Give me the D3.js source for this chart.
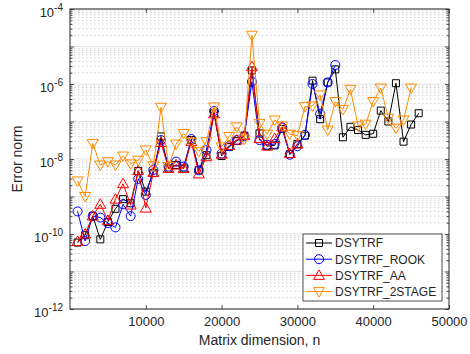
<!DOCTYPE html>
<html>
<head>
<meta charset="utf-8">
<script src="https://cdn.jsdelivr.net/npm/d3@7"></script>
<style>
  body { margin: 0; background: #fff; }
  text { font-family: "Liberation Sans", Arial, sans-serif; fill: #262626; }
</style>
</head>
<body>
<svg id="chart"></svg>
<script>
// matrix dimensions n
const sizes = [1000, 2000, 3000, 4000, 5000, 6000, 7000, 8000, 9000, 10000,
  11000, 12000, 13000, 14000, 15000, 16000, 17000, 18000, 19000, 20000,
  21000, 22000, 23000, 24000, 25000, 26000, 27000, 28000, 29000, 30000,
  31000, 32000, 33000, 34000, 35000, 36000, 37000, 38000, 39000, 40000,
  41000, 42000, 43000, 44000, 45000, 46000];

// error norms
const errDsytrf = [5.9e-11, 9.3e-11, 3.0e-10, 7.2e-11, 2.1e-10, 4.7e-10, 8.5e-10, 6.6e-10, 4.8e-9, 1.35e-9,
  4.2e-9, 4.0e-8, 5.6e-9, 6.9e-9, 5.6e-9, 3.2e-8, 5.0e-9, 1.26e-8, 1.66e-7, 1.2e-8,
  2.1e-8, 3.0e-8, 4.2e-8, 2.3e-6, 4.8e-8, 2.2e-8, 2.3e-8, 6.3e-8, 1.35e-8, 2.5e-8,
  4.2e-8, 1.23e-6, 1.15e-7, 1.1e-6, 2.45e-6, 3.8e-8, 7.2e-8, 5.9e-8, 4.4e-8, 4.7e-8,
  1.95e-7, 1.0e-7, 1.05e-6, 2.9e-8, 8.3e-8, 1.66e-7];

const errRook = [4.0e-10, 6.5e-11, 3.0e-10, 2.75e-10, 1.95e-10, 1.5e-10, 6.2e-10, 3.0e-10, 2.95e-9, 1.1e-9,
  5.1e-9, 3.2e-8, 6.3e-9, 8.5e-9, 6.3e-9, 3.4e-8, 5.0e-9, 1.74e-8, 1.9e-7, 1.4e-8,
  2.2e-8, 3.2e-8, 4.0e-8, 1.15e-6, 3.2e-8, 2.4e-8, 2.5e-8, 6.9e-8, 1.3e-8, 2.2e-8,
  4.4e-8, 1.0e-6, 1.6e-7, 1.1e-6, 3.2e-6];

const errAA = [6.3e-11, 1.0e-10, 3.0e-10, 6.2e-10, 2.3e-10, 8.5e-10, 2.2e-9, 5.9e-10, 4.9e-9, 4.9e-10,
  4.4e-9, 2.75e-8, 5.6e-9, 6.9e-9, 5.6e-9, 2.9e-8, 4.0e-9, 1.15e-8, 1.6e-7, 1.35e-8,
  2.3e-8, 3.2e-8, 4.2e-8, 2.9e-6, 3.5e-8, 2.2e-8, 3.5e-8, 7.2e-8, 1.4e-8, 2.5e-8];

const err2stage = [2.6e-9, 1.0e-9, 2.6e-8, 6.9e-9, 8.5e-9, 6.9e-9, 1.2e-8, 7.4e-9, 9.3e-9, 1.74e-8,
  6.6e-9, 2.4e-7, 6.3e-9, 2.5e-8, 4.8e-8, 2.8e-8, 1.6e-8, 2.9e-8, 2.45e-7, 2.1e-8,
  4.0e-8, 7.2e-8, 3.4e-8, 2.0e-5, 8.9e-8, 4.6e-8, 1.1e-7, 7.6e-8, 4.6e-8, 4.2e-8,
  2.5e-7, 2.6e-7, 5.1e-7, 5.9e-8, 3.4e-7, 2.1e-7, 7.2e-7, 7.6e-8, 8.5e-8, 3.4e-7,
  7.8e-7, 1.23e-7, 6.6e-8, 1.1e-7, 7.8e-7];

const seriesNames = ["DSYTRF", "DSYTRF_ROOK", "DSYTRF_AA", "DSYTRF_2STAGE"];
const xTickValues = [10000, 20000, 30000, 40000, 50000];
const yLabelExps = [-4, -6, -8, -10, -12];

const seriesList = [errDsytrf, errRook, errAA, err2stage];
const colors = ["#000000", "#0000ff", "#ff0000", "#ff8c00"];
const markers = [
  "M-3.5,-3.5h7v7h-7z",
  d3.symbol(d3.symbolCircle, 64)(),
  "M0,-5.5L5.5,4L-5.5,4Z",
  "M0,5.5L5.5,-4L-5.5,-4Z"
];

const width = 470, height = 354;
const plotL = 70, plotR = 449, plotT = 9, plotB = 309;

const svg = d3.select("#chart").attr("width", width).attr("height", height);

const x = d3.scaleLinear().domain([0, 50000]).range([plotL, plotR]);
const y = d3.scaleLog().domain([1e-12, 1e-4]).range([plotB, plotT]);

const allTicks = y.ticks();
const decades = allTicks.filter(v => Math.abs(Math.log10(v) - Math.round(Math.log10(v))) < 1e-9);
const minors = allTicks.filter(v => !decades.includes(v));

// grid
const grid = svg.append("g");
grid.selectAll("line.minor")
  .data(minors)
  .join("line")
  .attr("x1", plotL).attr("x2", plotR)
  .attr("y1", d => y(d)).attr("y2", d => y(d))
  .attr("stroke", "#cfcfcf")
  .attr("stroke-dasharray", "1.5,2.5")
  .attr("stroke-width", 1);
grid.selectAll("line.major")
  .data(decades)
  .join("line")
  .attr("x1", plotL).attr("x2", plotR)
  .attr("y1", d => y(d)).attr("y2", d => y(d))
  .attr("stroke", "#e3e3e3")
  .attr("stroke-width", 1);

// series
const line = d3.line().x(d => x(d[0])).y(d => y(d[1]));
seriesList.forEach((vals, i) => {
  const pts = vals.map((v, j) => [sizes[j], v]);
  const g = svg.append("g");
  g.append("path")
    .datum(pts)
    .attr("d", line)
    .attr("fill", "none")
    .attr("stroke", colors[i])
    .attr("stroke-width", 1);
  g.selectAll("path.m")
    .data(pts)
    .join("path")
    .attr("class", "m")
    .attr("d", markers[i])
    .attr("transform", d => `translate(${x(d[0])},${y(d[1])})`)
    .attr("fill", "none")
    .attr("stroke", colors[i])
    .attr("stroke-width", 1);
});

// axes box and ticks
const axisColor = "#262626";
const axB = svg.append("g").attr("transform", `translate(0,${plotB})`)
  .call(d3.axisBottom(x).tickValues(xTickValues).tickSizeInner(-4).tickSizeOuter(0).tickPadding(8).tickFormat(d3.format("d")));
const axT = svg.append("g").attr("transform", `translate(0,${plotT})`)
  .call(d3.axisTop(x).tickValues(xTickValues).tickSizeInner(-4).tickSizeOuter(0).tickFormat(""));
const axL = svg.append("g").attr("transform", `translate(${plotL},0)`)
  .call(d3.axisLeft(y).tickValues(decades).tickSizeInner(-4).tickSizeOuter(0).tickFormat(""));
const axLm = svg.append("g").attr("transform", `translate(${plotL},0)`)
  .call(d3.axisLeft(y).tickValues(minors).tickSizeInner(-2.5).tickSizeOuter(0).tickFormat(""));
const axR = svg.append("g").attr("transform", `translate(${plotR},0)`)
  .call(d3.axisRight(y).tickValues(decades).tickSizeInner(-4).tickSizeOuter(0).tickFormat(""));
const axRm = svg.append("g").attr("transform", `translate(${plotR},0)`)
  .call(d3.axisRight(y).tickValues(minors).tickSizeInner(-2.5).tickSizeOuter(0).tickFormat(""));

[axB, axT, axL, axLm, axR, axRm].forEach(a => {
  a.selectAll(".domain").remove();
  a.selectAll("line").attr("stroke", axisColor).attr("stroke-width", 0.8);
});
axB.selectAll("text").attr("font-size", 13).attr("fill", axisColor)
  .style("font-family", '"Liberation Sans", Arial, sans-serif');

svg.append("rect")
  .attr("x", plotL).attr("y", plotT)
  .attr("width", plotR - plotL).attr("height", plotB - plotT)
  .attr("fill", "none")
  .attr("stroke", axisColor)
  .attr("stroke-width", 1);

// y tick labels 10^k
const yl = svg.append("g").selectAll("text")
  .data(yLabelExps)
  .join("text")
  .attr("x", plotL - 7)
  .attr("y", d => y(Math.pow(10, d)) + 8)
  .attr("text-anchor", "end")
  .attr("font-size", 13);
yl.append("tspan").text("10");
yl.append("tspan").attr("dy", -6).attr("font-size", 10).text(d => String(d));

// axis labels
svg.append("text")
  .attr("x", (plotL + plotR) / 2)
  .attr("y", 345)
  .attr("text-anchor", "middle")
  .attr("font-size", 14)
  .text("Matrix dimension, n");
svg.append("text")
  .attr("transform", `translate(22,${(plotT + plotB) / 2}) rotate(-90)`)
  .attr("text-anchor", "middle")
  .attr("font-size", 14)
  .text("Error norm");

// legend
const lg = svg.append("g").attr("transform", "translate(303,234)");
lg.append("rect")
  .attr("width", 139).attr("height", 67)
  .attr("fill", "#fff")
  .attr("stroke", axisColor)
  .attr("stroke-width", 0.8);
seriesNames.forEach((name, i) => {
  const yy = 9 + i * 16.2;
  lg.append("line")
    .attr("x1", 3).attr("x2", 29).attr("y1", yy).attr("y2", yy)
    .attr("stroke", colors[i]).attr("stroke-width", 1);
  lg.append("path")
    .attr("d", markers[i])
    .attr("transform", `translate(16,${yy})`)
    .attr("fill", "none").attr("stroke", colors[i]).attr("stroke-width", 1);
  lg.append("text")
    .attr("x", 32).attr("y", yy)
    .attr("dy", "0.36em")
    .attr("font-size", 12)
    .text(name);
});
</script>
</body>
</html>
